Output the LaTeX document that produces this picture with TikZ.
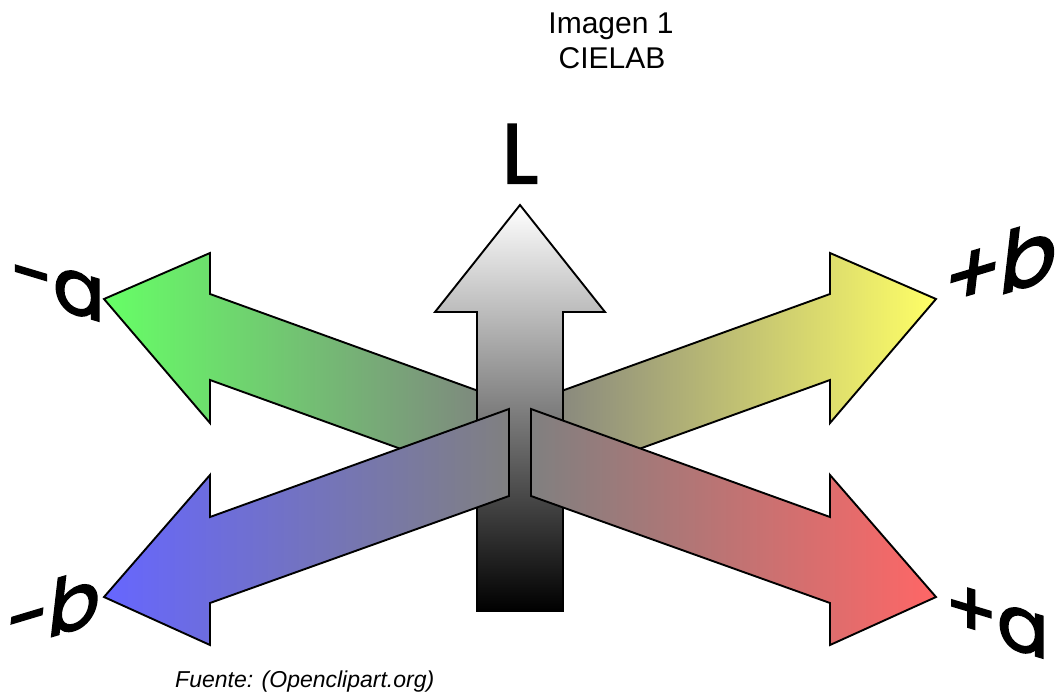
\documentclass[tikz,border=0pt]{standalone}
\usepackage{fontspec}
\setmainfont{Liberation Sans}
\newfontfamily\geofont{Poppins}[FakeBold=2.4]

\definecolor{greentip}{RGB}{102,255,102}
\definecolor{bluetip}{RGB}{102,102,255}
\definecolor{redtip}{RGB}{255,102,102}
\definecolor{yellowtip}{RGB}{255,255,102}
\definecolor{midgray}{RGB}{128,128,128}

\begin{document}
\begin{tikzpicture}[x=1pt,y=-1pt,
  axisarrow/.style={draw=black, line width=1.9pt, line join=miter},
  biglabel/.style={font=\geofont\fontsize{84}{84}\selectfont, inner sep=0pt, transform shape},
  smalllabel/.style={font=\geofont\fontsize{76}{76}\selectfont, inner sep=0pt, transform shape},
  widelabel/.style={font=\geofont\fontsize{83}{83}\selectfont, inner sep=0pt, transform shape},
  titletext/.style={font=\fontsize{30}{36}\selectfont, inner sep=0pt, anchor=base}
]
\useasboundingbox (0,0) rectangle (1060,691);

% title
\node[titletext] (title1) at (611,33) {Imagen 1};
\node[titletext] (title2) at (612,68) {CIELAB};

% -a and +b axes (behind the L axis)
\draw[axisarrow, left color=greentip, right color=midgray]
  (104,299) -- (210,253) -- (210,294) -- (509,402) -- (509,488)
  -- (210,380) -- (210,423) -- cycle;
\draw[axisarrow, left color=midgray, right color=yellowtip]
  (936,299) -- (830,253) -- (830,294) -- (531,402) -- (531,488)
  -- (830,380) -- (830,423) -- cycle;

% L axis
\draw[axisarrow, top color=white, bottom color=black]
  (520,205) -- (605,312) -- (563,312) -- (563,611) -- (477,611)
  -- (477,312) -- (435,312) -- cycle;

% -b and +a axes (in front of the L axis)
\draw[axisarrow, left color=bluetip, right color=midgray]
  (104,597) -- (210,475) -- (210,517) -- (509,409) -- (509,496)
  -- (210,603) -- (210,645) -- cycle;
\draw[axisarrow, left color=midgray, right color=redtip]
  (936,597) -- (830,475) -- (830,517) -- (531,409) -- (531,496)
  -- (830,603) -- (830,645) -- cycle;

% axis labels
\node[biglabel, anchor=base] (labL) at (520,183) {L};
\begin{scope}[shift={(58,288)}, yslant=-0.3]
  \node[smalllabel] (labminusa) at (0,0) {-a};
\end{scope}
\begin{scope}[shift={(1001,264)}, yslant=0.3, xslant=0.12]
  \node[widelabel] (labplusb) at (0,0) {+b};
\end{scope}
\begin{scope}[shift={(54,608)}, yslant=0.3, xslant=0.12]
  \node[smalllabel] (labminusb) at (0,0) {-b};
\end{scope}
\begin{scope}[shift={(997,621)}, yslant=-0.3]
  \node[smalllabel] (labplusa) at (0,0) {+a};
\end{scope}

% source
\node[font=\itshape\fontsize{23}{28}\selectfont, inner sep=0pt, anchor=base west]
  (source) at (175,687) {Fuente: (Openclipart.org)};
\end{tikzpicture}
\end{document}
